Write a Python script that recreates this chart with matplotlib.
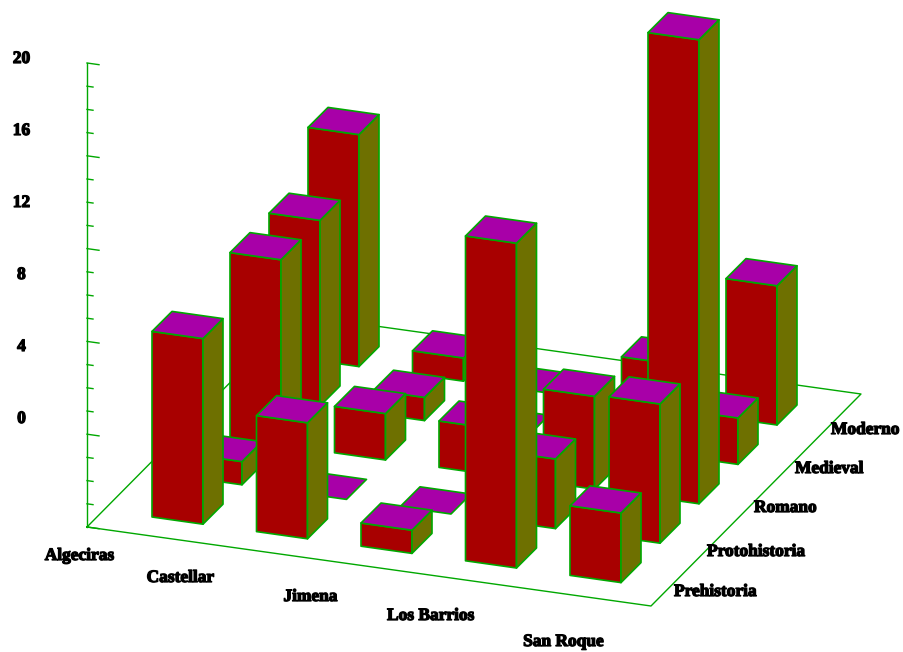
import matplotlib
matplotlib.use("Agg")
import matplotlib.pyplot as plt
import matplotlib.patheffects as pe
from matplotlib.patches import Polygon

towns = ["Algeciras", "Castellar", "Jimena", "Los Barrios", "San Roque"]
periods = ["Prehistoria", "Protohistoria", "Romano", "Medieval", "Moderno"]
algeciras = [8, 1, 8, 8, 10]
castellar = [5, 0, 2, 1, 1]
jimena = [1, 0, 2, 0, 0]
los_barrios = [14, 3, 4, 1, 2]
san_roque = [3, 6, 20, 2, 6]
values = [algeciras, castellar, jimena, los_barrios, san_roque]
z_tick_labels = ["20", "16", "12", "8", "4", "0"]
z_max = 20

RED, OLIVE, MAGENTA, GREEN = "#A80000", "#6E7000", "#A800A8", "#00A800"
FONT = dict(family="Liberation Serif", fontweight="bold", color="black", fontsize=12.5,
            path_effects=[pe.withStroke(linewidth=0.9, foreground="black")])

ORIGIN = (87.0, 527.0)
CATX = (104.5, 14.6)
DEPY = (39.0, -39.4)
UNIT = 23.2
BW = (51.0, 7.2)
BD = (20.0, -20.0)
FIRST = (65.0, -10.0)


def base(i, j):
    return (ORIGIN[0] + FIRST[0] + CATX[0] * i + DEPY[0] * j,
            ORIGIN[1] + FIRST[1] + CATX[1] * i + DEPY[1] * j)


fig = plt.figure(figsize=(9.04, 6.52), dpi=100)
ax = fig.add_axes([0, 0, 1, 1])
ax.set_xlim(0, 904)
ax.set_ylim(652, 0)
ax.axis("off")

lw = 1.2
# floor
fl = [ORIGIN, (651, 606), (861, 394), (297, 315), ORIGIN]
ax.plot([p[0] for p in fl], [p[1] for p in fl], color=GREEN, lw=1.0, zorder=1)
# vertical axis
ax.plot([ORIGIN[0], ORIGIN[0]], [ORIGIN[1], ORIGIN[1] - z_max * UNIT], color=GREEN, lw=1.0, zorder=1)
for k in range(z_max + 1):
    y = ORIGIN[1] - k * UNIT
    L = 12 if k % 4 == 0 else 6
    ax.plot([ORIGIN[0], ORIGIN[0] + L], [y, y + L * 0.14], color=GREEN, lw=1.0, zorder=1)

z = 2
for j in range(4, -1, -1):
    for i in range(5):
        v = values[i][j]
        x0, y0 = base(i, j)
        h = v * UNIT
        A = (x0, y0 - h)
        B = (x0 + BW[0], y0 + BW[1] - h)
        C = (x0 + BW[0] + BD[0], y0 + BW[1] + BD[1] - h)
        D = (x0 + BD[0], y0 + BD[1] - h)
        Bb = (x0 + BW[0], y0 + BW[1])
        Cb = (x0 + BW[0] + BD[0], y0 + BW[1] + BD[1])
        if v > 0:
            ax.add_patch(Polygon([A, B, Bb, (x0, y0)], fc=RED, ec=GREEN, lw=lw, zorder=z, joinstyle="round"))
            ax.add_patch(Polygon([B, C, Cb, Bb], fc=OLIVE, ec=GREEN, lw=lw, zorder=z, joinstyle="round"))
        ax.add_patch(Polygon([A, B, C, D], fc=MAGENTA, ec=GREEN, lw=lw, zorder=z, joinstyle="round"))
        z += 1

for lab, yy in zip(z_tick_labels, [59, 131, 203, 275, 347, 419]):
    ax.text(21.5, yy, lab, ha="center", va="center", **FONT)
for lab, xx, yy in zip(towns, [79.5, 180.5, 310.5, 430.5, 563.5], [556, 578, 597, 616, 642]):
    ax.text(xx, yy, lab, ha="center", va="center", **FONT)
for lab, xx, yy in zip(periods, [674, 707, 754, 795, 831], [592, 552, 508, 469, 430]):
    ax.text(xx, yy, lab, ha="left", va="center", **FONT)

fig.savefig("out.png", dpi=100)
